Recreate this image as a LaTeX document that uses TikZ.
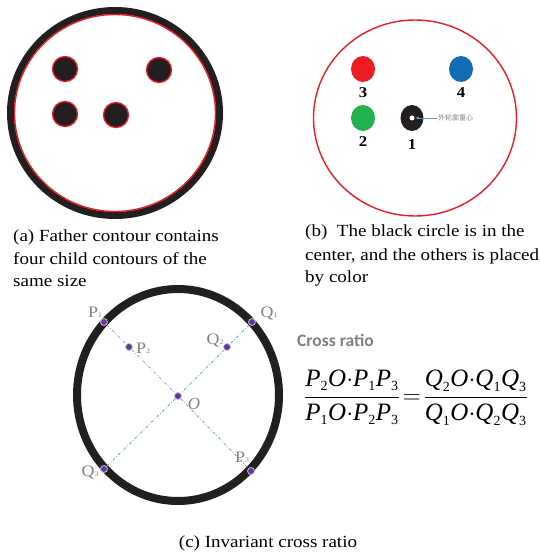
\documentclass[tikz,border=0pt]{standalone}
\usepackage{fontspec}
\setmainfont{Liberation Serif}[FakeStretch=1.12]
\newfontfamily\eqfont{Liberation Serif}
\newfontfamily\cjk{Noto Sans CJK SC}
\newfontfamily\calib{Carlito}
\usetikzlibrary{positioning,arrows.meta,shapes.geometric}
\definecolor{ink}{RGB}{35,31,32}
\definecolor{cred}{RGB}{237,28,36}
\definecolor{cblue}{RGB}{17,108,180}
\definecolor{cgreen}{RGB}{34,177,76}
\definecolor{lblue}{RGB}{91,155,213}
\definecolor{dotc}{RGB}{95,55,150}
\newcommand{\smallidx}[1]{{\fontsize{7}{7}\selectfont #1}}
\newcommand{\vi}[1]{\mbox{\eqfont\itshape #1}}
\newcommand{\vs}[2]{\vi{#1}_{\mbox{\eqfont\fontsize{14}{14}\selectfont #2}}}

\begin{document}
\begin{tikzpicture}[x=1pt,y=-1pt,every node/.style={font=\fontsize{17}{22}\selectfont},
  captxt/.style={align=left,anchor=west,inner sep=0pt},
  child/.style={circle,draw=cred,line width=1.3pt,fill=ink,minimum size=25,inner sep=0pt},
  blob/.style={ellipse,fill=#1,minimum width=24,minimum height=26,inner sep=0pt},
  num/.style={font=\fontsize{15}{15}\selectfont\bfseries,inner sep=0pt},
  pt/.style={circle,fill=dotc,draw=dotc!35,line width=0.8pt,minimum size=7,inner sep=0pt},
  plab/.style={text=gray,inner sep=0pt,font=\fontsize{16}{16}\selectfont},
  chord/.style={lblue,line width=0.7pt,dash dot}]
\useasboundingbox (0,0) rectangle (539,556);
% (a) father contour with four children
\draw[ink,line width=7pt] (115,113) ellipse (104.5 and 102.5);
\draw[cred,line width=1.4pt] (115,113) ellipse (100.5 and 98.5);
\node[child] (c1) at (65,69) {};
\node[child] (c2) at (159,70) {};
\node[child] (c3) at (65,114) {};
\node[child] (c4) at (116,115) {};
\node[captxt] (capa) at (13,237) {(a) Father contour contains};
\node[captxt] (capa2) at (13,259) {four child contours of the};
\node[captxt] (capa3) at (13,281) {same size};
% (b) placed by colour
\draw[cred,line width=1.4pt] (415,118) ellipse (101.5 and 98);
\node[blob=cred] (b3) at (363,69) {};
\node[blob=cblue] (b4) at (461,69) {};
\node[blob=cgreen] (b2) at (363,118) {};
\node[blob=ink,minimum width=23] (b1) at (412,118) {};
\node[circle,fill=white,minimum size=5,inner sep=0pt] (ctr) at (412,118) {};
\node[num,below=5pt of b3] (n3) {3};
\node[num,below=5pt of b4] (n4) {4};
\node[num,below=5pt of b2] (n2) {2};
\node[num,below=8pt of b1] (n1) {1};
\node[font=\cjk\fontsize{7}{7}\selectfont,text=gray,inner sep=1pt,anchor=west] (cn) at (437,118) {外轮廓重心};
\draw[lblue,line width=0.9pt,-{Latex[length=4pt,width=3pt]}] (cn.west) -- (ctr.east);
\node[captxt] (capb) at (305,232) {(b)\ \ The black circle is in the};
\node[captxt] (capb2) at (305,256) {center, and the others is placed};
\node[captxt] (capb3) at (305,278) {by color};
% (c) cross ratio
\draw[ink,line width=8pt] (178,395) ellipse (101 and 106);
\node[pt] (p1) at (104,322) {};
\node[pt] (p2) at (129,347) {};
\node[pt] (p3) at (251,471) {};
\node[pt] (q1) at (252,322) {};
\node[pt] (q2) at (227,347) {};
\node[pt] (q3) at (104,469) {};
\node[pt] (o) at (178,396) {};
\draw[chord] (p1) -- (p2) -- (o) -- (p3);
\draw[chord] (q1) -- (q2) -- (o) -- (q3);
\node[plab] (lp1) at (95,312) {P\smallidx{1}};
\node[plab] (lp2) at (143,348) {P\smallidx{2}};
\node[plab] (lp3) at (242,457) {P\smallidx{3}};
\node[plab] (lq1) at (269,313) {Q\smallidx{1}};
\node[plab] (lq2) at (215,340) {Q\smallidx{2}};
\node[plab] (lq3) at (90,472) {Q\smallidx{3}};
\node[plab,font=\eqfont\fontsize{17}{17}\selectfont\itshape] (lo) at (194,404) {O};
\node[text=gray,font=\calib\fontsize{17.5}{17.5}\selectfont\bfseries,anchor=west,inner sep=0pt] (cr) at (297,340) {Cross ratio};
\node[font=\fontsize{25}{28}\selectfont] (eq) at (416,398)
  {$\nulldelimiterspace=0pt\displaystyle\frac{\vs{P}{2}\vi{O}{\cdot}\vs{P}{1}\vs{P}{3}}{\vs{P}{1}\vi{O}{\cdot}\vs{P}{2}\vs{P}{3}}
   \,{=}\,\frac{\vs{Q}{2}\vi{O}{\cdot}\vs{Q}{1}\vs{Q}{3}}{\vs{Q}{1}\vi{O}{\cdot}\vs{Q}{2}\vs{Q}{3}}$};
\node (capc) at (268,543) {(c) Invariant cross ratio};
\end{tikzpicture}
\end{document}
